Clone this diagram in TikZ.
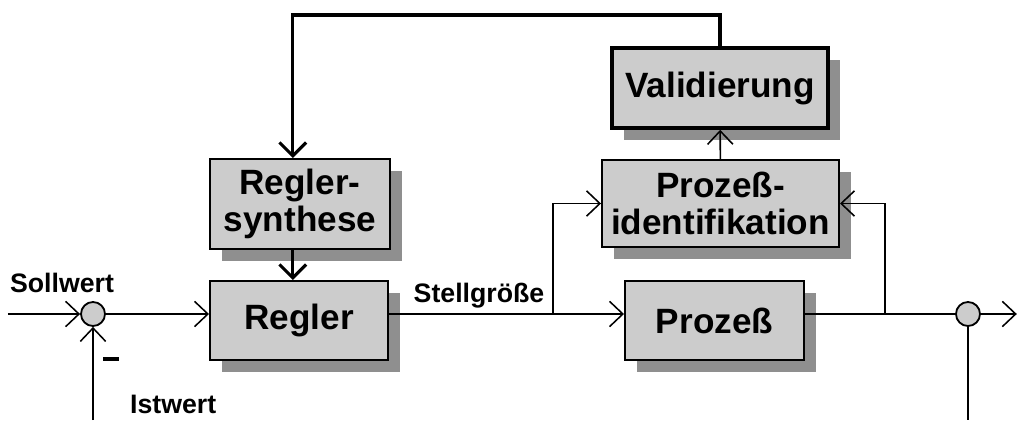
\documentclass[tikz,border=0pt]{standalone}
\usepackage{fontspec}
\setmainfont{Liberation Sans}
\usetikzlibrary{arrows.meta, calc, positioning, shadows}

\definecolor{boxgray}{RGB}{204,204,204}
\definecolor{shadowgray}{RGB}{143,143,143}

\tikzset{
  block/.style={draw, line width=1.4pt, fill=boxgray, align=center,
    font=\fontsize{25}{26.5}\selectfont\bfseries, inner sep=0pt,
    drop shadow={shadow xshift=0.3cm, shadow yshift=-0.3cm, fill=shadowgray, opacity=1}},
  sumpt/.style={circle, draw, line width=1.3pt, fill=boxgray, minimum size=0.6cm, inner sep=0pt},
  sig/.style={line width=1.1pt, -{Straight Barb[length=9.5pt, width=18pt, line width=1.1pt]}},
  fat/.style={line width=2.2pt, -{Straight Barb[length=9.5pt, width=19pt, line width=2.2pt]}},
  lab/.style={font=\fontsize{19}{22}\selectfont\bfseries}
}

\begin{document}
\begin{tikzpicture}
  \useasboundingbox (0,0) rectangle (25.675,10.5);

  \coordinate (in)    at ( 0.2 , 2.65);
  \coordinate (out)   at (25.42, 2.65);
  \coordinate (fbl)   at ( 2.325, 0);
  \coordinate (fbr)   at (24.2 , 0);
  \coordinate (abzw1) at (13.825, 2.65);
  \coordinate (abzw2) at (22.125, 2.65);
  \coordinate (oben)  at ( 7.32, 10.125);

  \node[sumpt] (sum1) at ( 2.325, 2.65) {};
  \node[sumpt] (sum2) at (24.2 , 2.65) {};

  \node[block, minimum width=4.45cm, minimum height=1.975cm] (regler)  at ( 7.475, 2.4875) {Regler};
  \node[block, minimum width=4.5cm,  minimum height=2.25cm]  (synth)   at ( 7.5  , 5.4)    {Regler-\\synthese};
  \node[block, minimum width=4.475cm, minimum height=1.975cm] (prozess) at (17.8625, 2.4875) {Proze\ss};
  \node[block, minimum width=5.925cm, minimum height=2.175cm] (ident)   at (18.0125, 5.4125) {Proze\ss-\\identifikation};
  \node[block, line width=2.6pt, minimum width=5.4cm, minimum height=2cm] (valid) at (18.0, 8.3) {Validierung};

  % Regelkreis
  \draw[sig] (in) -- (sum1);
  \draw[sig] (sum1) -- (sum1 -| regler.west);
  \draw[sig] (fbl) -- (sum1);
  \draw[sig] (regler.east |- sum1) -- (prozess.west |- sum1);
  \draw[line width=1.1pt] (prozess.east |- sum2) -- (sum2);
  \draw[sig] (sum2) -- (out);
  \draw[line width=1.1pt] (sum2) -- (fbr);

  % Identifikation
  \draw[sig] (abzw1) |- (ident.west);
  \draw[sig] (abzw2) |- (ident.east);
  \draw[sig] (ident) -- (valid);

  % Adaption
  \draw[fat] (valid.north) |- (oben) -- (oben |- synth.north);
  \draw[fat] (oben |- synth.south) -- (oben |- regler.north);

  \node[lab] (soll) at ( 1.55 , 3.42) {Sollwert};
  \node[lab] (ist)  at ( 4.33 , 0.38) {Istwert};
  \node[inner sep=0pt] (minus) at ( 2.775, 1.525) {\rule{0.4cm}{0.1cm}};
  \node[lab] (stell) at (11.975, 3.12) {Stellgr\"o\ss e};
\end{tikzpicture}
\end{document}
